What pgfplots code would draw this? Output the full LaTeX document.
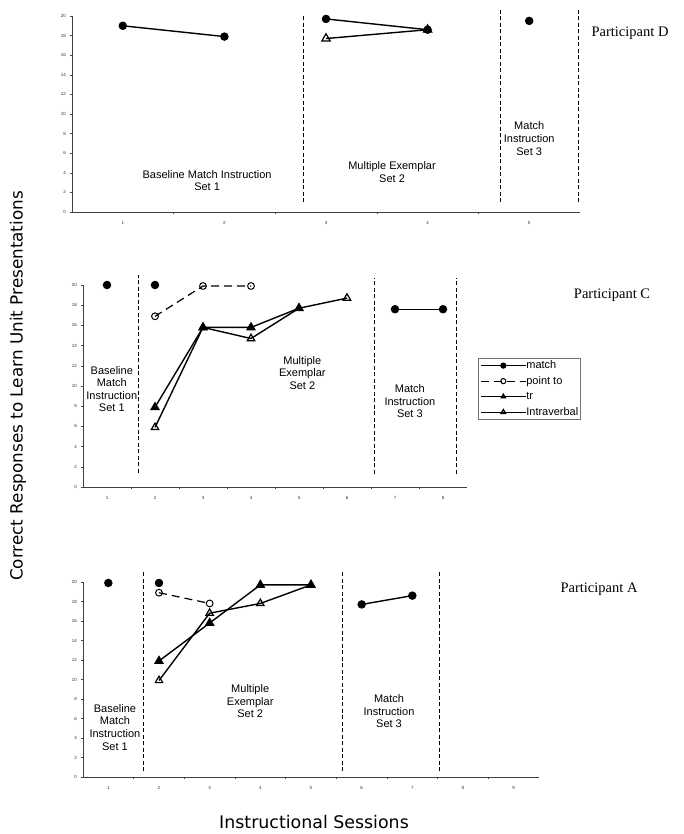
\documentclass[border=0pt]{standalone}
\usepackage{fontspec}
\setmainfont{Liberation Sans}
\newfontfamily\dejavu{DejaVu Sans}
\newfontfamily\timesf{Liberation Serif}
\usepackage{pgfplots}
\pgfplotsset{compat=1.18}

\pgfplotsset{
  phase/.style={
    scale only axis, anchor=south west,
    axis x line*=bottom, axis y line*=left,
    axis line style={black!75, line width=0.8pt, -},
    ymin=0, ymax=20, ytick={0,2,...,20},
    minor x tick num=1,
    tick align=outside, major tick length=2.5pt, minor tick length=2.5pt,
    tick style={black!70, line width=0.5pt},
    major x tick style={draw=none},
    ticklabel style={font=\fontsize{4.5}{5}\selectfont, black!80},
    x tick label style={yshift=-3pt},
    /pgf/number format/assume math mode=true,
    clip=false, unbounded coords=jump,
  },
  match/.style={black, line width=1.4pt, mark=*, mark size=3.5pt,
    mark options={solid, fill=black}},
  pointto/.style={black, line width=1.2pt, dash pattern=on 8pt off 5pt,
    mark=o, mark size=3.4pt, mark options={solid, fill=white, line width=1pt}},
  tr/.style={black, line width=1.4pt, mark=triangle*, mark size=4.3pt,
    mark options={solid, fill=black}},
  intra/.style={black, line width=1.4pt, mark=triangle, mark size=4.3pt,
    mark options={solid, fill=white, line width=1.2pt}},
  phaseline/.style={black, line width=1pt, dash pattern=on 4pt off 2.5pt,
    forget plot},
}
\tikzset{region/.style={align=center, font=\fontsize{11}{12.6}\selectfont}}

\begin{document}
\begin{tikzpicture}
\useasboundingbox (0,0) rectangle (684pt,834pt);

% Participant D
\begin{axis}[phase, at={(72pt,622pt)}, width=508pt, height=196pt,
  xmin=0.5, xmax=5.5, xtick={1,...,5}]
\addplot[match] coordinates {(1,19.0) (2,17.9) (2.5,nan) (3,19.7) (4,18.6) (4.5,nan) (5,19.5)};
\addplot[intra, mark size=4.8pt] coordinates {(3,17.7) (4,18.6)};
\addplot[phaseline] coordinates {(2.78,1.0) (2.78,20.2)};
\addplot[phaseline] coordinates {(4.72,1.0) (4.72,20.7)};
\addplot[phaseline] coordinates {(5.49,1.0) (5.49,20.7)};
\node[region] at (axis cs:1.83,3.2) {Baseline Match Instruction\\Set 1};
\node[region] at (axis cs:3.65,4.1) {Multiple Exemplar\\Set 2};
\node[region] at (axis cs:5.0,7.5) {Match\\Instruction\\Set 3};
\end{axis}

% Participant C
\begin{axis}[phase, at={(83pt,347pt)}, width=384pt, height=202pt,
  xmin=0.5, xmax=8.5, xtick={1,...,8},
  legend style={at={(1.029,0.639)}, anchor=north west, draw=black!55,
    font=\fontsize{11}{12}\selectfont, inner sep=2pt, row sep=4.5pt,
    nodes={inner sep=0pt, text height=8.5pt, text depth=2.5pt}},
  legend cell align=left,
  legend image code/.code={
    \draw[#1, mark=none] (0pt,0pt) -- (45pt,0pt);
    \draw[#1, solid] plot coordinates {(22.5pt,0pt)};},
  legend image post style={mark size=2.6pt, line width=1pt},
]
\addplot[match] coordinates {(1,20.0) (1.5,nan) (2,20.0) (2.5,nan) (7,17.6) (8,17.6)};
\addplot[pointto] coordinates {(2,16.9) (3,19.9) (4,19.9)};
\addplot[tr] coordinates {(2,7.9) (3,15.8) (4,15.8) (5,17.7)};
\addplot[intra] coordinates {(2,5.9) (3,15.8) (4,14.7) (5,17.7) (6,18.7)};
\legend{match, point to, tr, Intraverbal}
\addplot[phaseline] coordinates {(1.65,1.4) (1.65,21.0)};
\addplot[phaseline] coordinates {(6.57,1.3) (6.57,20.7)};
\addplot[phaseline] coordinates {(8.29,1.3) (8.29,20.7)};
\node[region] at (axis cs:1.1,9.7) {Baseline\\Match\\Instruction\\Set 1};
\node[region] at (axis cs:5.07,11.3) {Multiple\\Exemplar\\Set 2};
\node[region] at (axis cs:7.31,8.5) {Match\\Instruction\\Set 3};
\end{axis}

% Participant A
\begin{axis}[phase, at={(83pt,57pt)}, width=456pt, height=195pt,
  xmin=0.5, xmax=9.5, xtick={1,...,9}]
\addplot[match] coordinates {(1,19.9) (1.5,nan) (2,19.9) (2.5,nan) (6,17.7) (7,18.6)};
\addplot[pointto] coordinates {(2,18.9) (3,17.8)};
\addplot[tr] coordinates {(2,11.9) (3,15.8) (4,19.7) (5,19.7)};
\addplot[intra] coordinates {(2,9.9) (3,16.8) (4,17.8) (5,19.7)};
\addplot[phaseline] coordinates {(1.69,0.6) (1.69,21.1)};
\addplot[phaseline] coordinates {(5.62,0.6) (5.62,21.1)};
\addplot[phaseline] coordinates {(7.53,0.6) (7.53,21.1)};
\node[region] at (axis cs:1.13,5.1) {Baseline\\Match\\Instruction\\Set 1};
\node[region] at (axis cs:3.8,7.75) {Multiple\\Exemplar\\Set 2};
\node[region] at (axis cs:6.54,6.76) {Match\\Instruction\\Set 3};
\end{axis}

\node[font=\timesf\fontsize{14.5}{15}\selectfont] at (630pt,801pt) {Participant D};
\node[font=\timesf\fontsize{14.5}{15}\selectfont] at (612pt,539pt) {Participant C};
\node[font=\timesf\fontsize{14.5}{15}\selectfont] at (599pt,245pt) {Participant A};
\node[font=\dejavu\fontsize{17.4}{18}\selectfont] at (314pt,12pt) {Instructional Sessions};
\node[font=\dejavu\fontsize{16.8}{18}\selectfont, rotate=90] at (18pt,448pt)
  {Correct Responses to Learn Unit Presentations};
\end{tikzpicture}
\end{document}
